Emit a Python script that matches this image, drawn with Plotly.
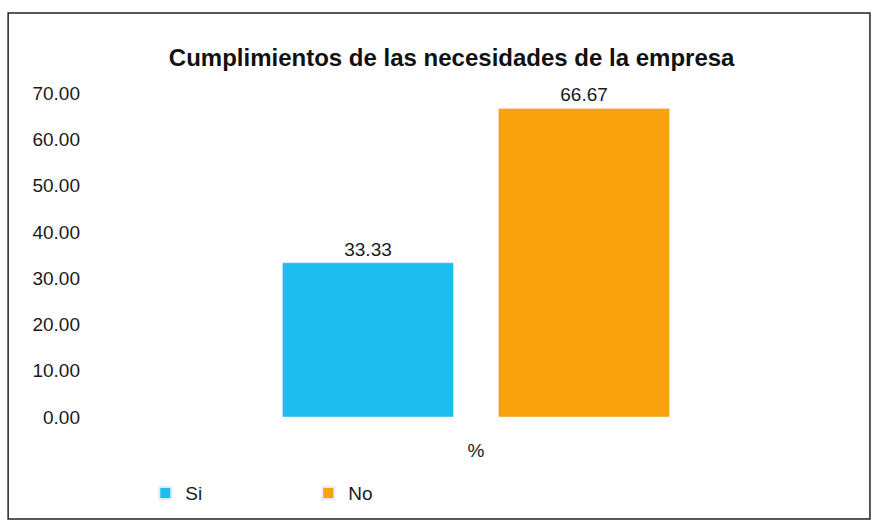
import plotly.graph_objects as go

categories = ["%"]
series_names = ["Si", "No"]
si_values = [33.33]
no_values = [66.67]
colors = ["#1FBDEF", "#F8A30E"]
y_ticks = [0, 10, 20, 30, 40, 50, 60, 70]

fig = go.Figure()
for name, vals, col in zip(series_names, [si_values, no_values], colors):
    fig.add_trace(go.Bar(
        x=categories, y=vals, name=name, marker_color=col,
        text=[f"{v:.2f}" for v in vals], textposition="outside",
        textfont=dict(size=19, color="#1a1a1a"), cliponaxis=False,
    ))

fig.update_layout(
    width=877, height=527,
    margin=dict(l=95, r=20, t=93, b=110),
    paper_bgcolor="white", plot_bgcolor="white",
    font=dict(family="Liberation Sans, Arial, sans-serif", size=19, color="#1a1a1a"),
    title=dict(text="<b>Cumplimientos de las necesidades de la empresa</b>",
               x=0.515, xanchor="center", y=0.89, yanchor="middle",
               font=dict(size=24, color="#111111")),
    barmode="group", bargap=0.433, bargroupgap=0.208,
    showlegend=True,
    legend=dict(orientation="h", x=0.066, xanchor="left", y=-0.235, yanchor="middle",
                entrywidth=118, entrywidthmode="pixels",
                font=dict(size=19), itemsizing="constant"),
    xaxis=dict(showline=False, showgrid=False, ticks="", ticklabelstandoff=20,
               tickfont=dict(size=19)),
    yaxis=dict(range=[0, 70], tickvals=y_ticks, tickformat=".2f", showgrid=False,
               showline=False, zeroline=False, ticks="", ticklabelstandoff=14,
               tickfont=dict(size=19)),
    shapes=[dict(type="rect", xref="paper", yref="paper",
                 x0=-0.114, x1=1.017, y0=-0.315, y1=1.247,
                 line=dict(color="#222222", width=1.5))],
)

fig.write_html("out.html")
